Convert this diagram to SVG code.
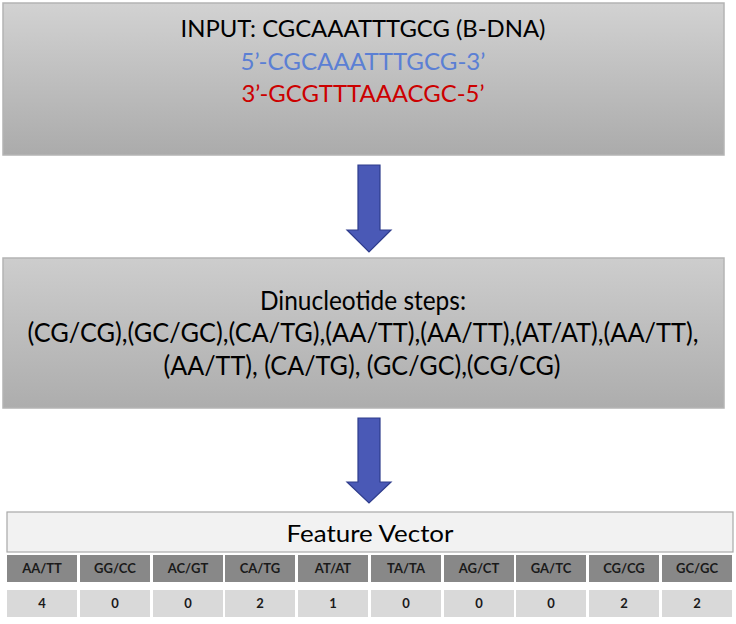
<svg xmlns="http://www.w3.org/2000/svg" width="736" height="624" viewBox="0 0 736 624">
<defs>
<linearGradient id="g1" x1="0" y1="0" x2="0" y2="1">
<stop offset="0" stop-color="#d2d2d2"/>
<stop offset="1" stop-color="#ababab"/>
</linearGradient>
<linearGradient id="g2" x1="0" y1="0" x2="0" y2="1">
<stop offset="0" stop-color="#cdcdcd"/>
<stop offset="1" stop-color="#adadad"/>
</linearGradient>
</defs>
<style>
text{font-family:Lato,"Liberation Sans",sans-serif;text-anchor:middle}
.box{stroke:#b4b4b4;stroke-width:1.5}
.t{font-size:22.5px;fill:#000}
.t2{font-size:26.5px;fill:#000}
.arrow{fill:#4a59b6;stroke:#2e3c8c;stroke-width:1.2}
.hdr{fill:#888888}
.val{fill:#d9d9d9}
.ht{font-size:13px;font-weight:bold;fill:#1a1a1a}
.vt{font-size:13px;font-weight:bold;fill:#1a1a1a}
</style>
<g id="input">
<rect class="box" x="3" y="3" width="721" height="152" fill="url(#g1)"/>
<text class="t" x="363" y="37" textLength="365" lengthAdjust="spacingAndGlyphs">INPUT: CGCAAATTTGCG (B-DNA)</text>
<text class="t" x="363" y="70" style="fill:#5b7fd4" textLength="245" lengthAdjust="spacingAndGlyphs">5’-CGCAAATTTGCG-3’</text>
<text class="t" x="363" y="102" style="fill:#cc0000" textLength="243" lengthAdjust="spacingAndGlyphs">3’-GCGTTTAAACGC-5’</text>
</g>
<g id="steps">
<rect class="box" x="3" y="258" width="721" height="150" fill="url(#g2)"/>
<text class="t2" x="363" y="310" textLength="206" lengthAdjust="spacingAndGlyphs">Dinucleotide steps:</text>
<text class="t2" x="363" y="342" textLength="671" lengthAdjust="spacingAndGlyphs">(CG/CG),(GC/GC),(CA/TG),(AA/TT),(AA/TT),(AT/AT),(AA/TT),</text>
<text class="t2" x="362" y="375" textLength="397" lengthAdjust="spacingAndGlyphs">(AA/TT), (CA/TG), (GC/GC),(CG/CG)</text>
</g>
<g id="connectors">
<polygon class="arrow" points="358,165 380,165 380,230 391,230 369,252 347,230 358,230"/>
<polygon class="arrow" points="358,418 380,418 380,482 391,482 369,503 347,482 358,482"/>
</g>
<g id="feature-vector">
<rect x="7" y="512" width="726" height="40" fill="#f2f2f2" stroke="#a8a8a8" stroke-width="1.2"/>
<text x="370" y="542" style="font-size:24px" textLength="167" lengthAdjust="spacingAndGlyphs">Feature Vector</text>
<g id="hdr-row">
<rect class="hdr" x="7" y="555" width="70" height="27"/>
<rect class="hdr" x="80" y="555" width="70" height="27"/>
<rect class="hdr" x="153" y="555" width="70" height="27"/>
<rect class="hdr" x="225" y="555" width="70" height="27"/>
<rect class="hdr" x="298" y="555" width="70" height="27"/>
<rect class="hdr" x="371" y="555" width="70" height="27"/>
<rect class="hdr" x="444" y="555" width="70" height="27"/>
<rect class="hdr" x="516" y="555" width="70" height="27"/>
<rect class="hdr" x="589" y="555" width="70" height="27"/>
<rect class="hdr" x="662" y="555" width="70" height="27"/>
<text class="ht" x="42" y="573">AA/TT</text>
<text class="ht" x="115" y="573">GG/CC</text>
<text class="ht" x="188" y="573">AC/GT</text>
<text class="ht" x="260" y="573">CA/TG</text>
<text class="ht" x="333" y="573">AT/AT</text>
<text class="ht" x="406" y="573">TA/TA</text>
<text class="ht" x="479" y="573">AG/CT</text>
<text class="ht" x="551" y="573">GA/TC</text>
<text class="ht" x="624" y="573">CG/CG</text>
<text class="ht" x="697" y="573">GC/GC</text>
</g>
<g id="val-row">
<rect class="val" x="7" y="590" width="70" height="27"/>
<rect class="val" x="80" y="590" width="70" height="27"/>
<rect class="val" x="153" y="590" width="70" height="27"/>
<rect class="val" x="225" y="590" width="70" height="27"/>
<rect class="val" x="298" y="590" width="70" height="27"/>
<rect class="val" x="371" y="590" width="70" height="27"/>
<rect class="val" x="444" y="590" width="70" height="27"/>
<rect class="val" x="516" y="590" width="70" height="27"/>
<rect class="val" x="589" y="590" width="70" height="27"/>
<rect class="val" x="662" y="590" width="70" height="27"/>
<text class="vt" x="42" y="608">4</text>
<text class="vt" x="115" y="608">0</text>
<text class="vt" x="188" y="608">0</text>
<text class="vt" x="260" y="608">2</text>
<text class="vt" x="333" y="608">1</text>
<text class="vt" x="406" y="608">0</text>
<text class="vt" x="479" y="608">0</text>
<text class="vt" x="551" y="608">0</text>
<text class="vt" x="624" y="608">2</text>
<text class="vt" x="697" y="608">2</text>
</g>
</g>
</svg>
